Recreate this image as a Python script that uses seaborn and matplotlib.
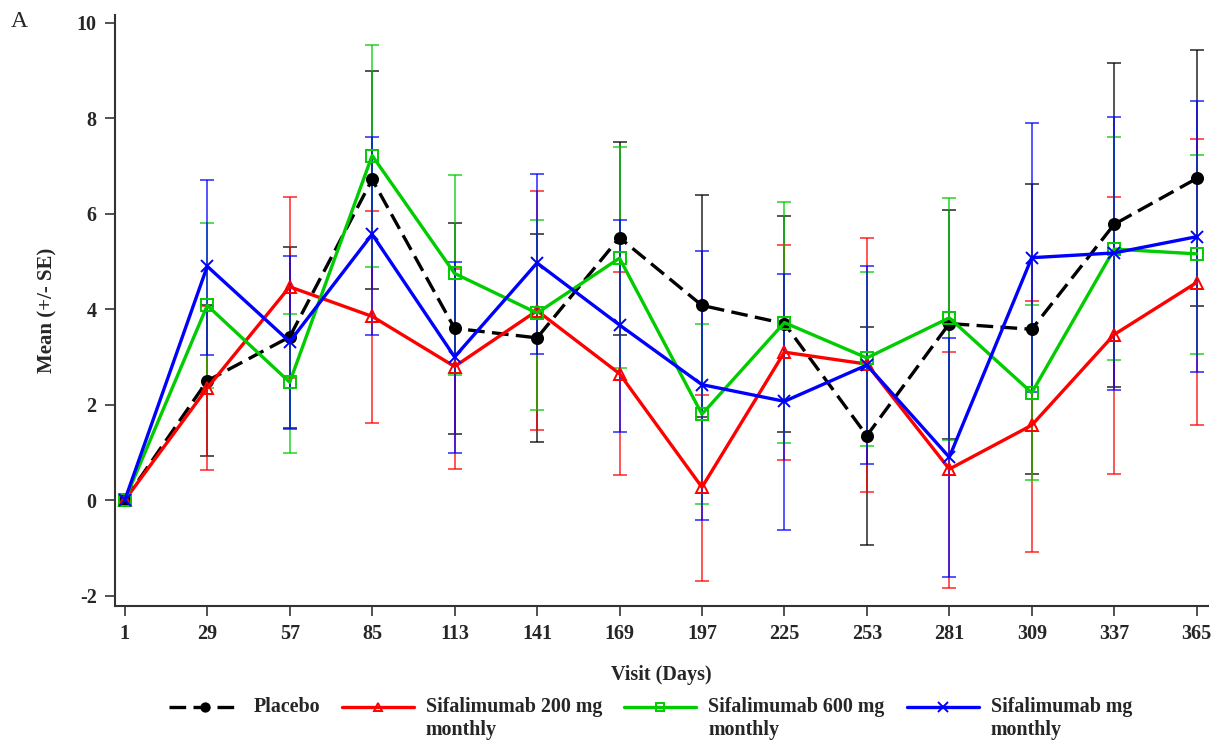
# sifalimumab_mean_plot.py
#
# Mean (+/- SE) by visit day for placebo and the three sifalimumab arms

import numpy as np
import pandas as pd
import seaborn as sns
from matplotlib import pyplot as plt
from matplotlib.transforms import Affine2D

# visit days (x axis)
days = [1, 29, 57, 85, 113, 141, 169, 197, 225, 253, 281, 309, 337, 365]

# group labels, as shown in the legend
groups = ['Placebo',
          'Sifalimumab 200 mg\nmonthly',
          'Sifalimumab 600 mg\nmonthly',
          'Sifalimumab mg\nmonthly']

# means
placebo_mean = [0, 2.50, 3.42, 6.72, 3.60, 3.40, 5.50, 4.08, 3.70, 1.35, 3.70, 3.58, 5.78, 6.74]
low200_mean  = [0, 2.35, 4.47, 3.85, 2.80, 3.97, 2.65, 0.27, 3.10, 2.85, 0.65, 1.57, 3.47, 4.56]
high600_mean = [0, 4.08, 2.47, 7.22, 4.75, 3.92, 5.07, 1.80, 3.72, 2.98, 3.82, 2.25, 5.26, 5.16]
other_mean   = [0, 4.90, 3.32, 5.57, 3.00, 4.97, 3.67, 2.42, 2.07, 2.83, 0.90, 5.08, 5.18, 5.52]

# upper / lower ends of the SE bars
placebo_hi = [0, 4.08, 5.31, 8.99, 5.80, 5.58, 7.50, 6.39, 5.95, 3.62, 6.09, 6.62, 9.16, 9.43]
placebo_lo = [0, 0.92, 1.51, 4.43, 1.38, 1.21, 3.46, 1.75, 1.42, -0.94, 1.28, 0.55, 2.38, 4.07]
low200_hi  = [0, 4.06, 6.35, 6.05, 4.85, 6.48, 4.77, 2.20, 5.35, 5.49, 3.11, 4.17, 6.35, 7.57]
low200_lo  = [0, 0.64, 2.55, 1.62, 0.66, 1.47, 0.52, -1.69, 0.85, 0.17, -1.85, -1.08, 0.55, 1.57]
high600_hi = [0, 5.80, 3.90, 9.53, 6.81, 5.88, 7.39, 3.70, 6.24, 4.77, 6.33, 4.08, 7.60, 7.23]
high600_lo = [0, 2.34, 0.99, 4.88, 2.63, 1.89, 2.76, -0.08, 1.19, 1.14, 1.26, 0.42, 2.93, 3.07]
other_hi   = [0, 6.71, 5.12, 7.61, 4.99, 6.83, 5.88, 5.23, 4.74, 4.91, 3.39, 7.90, 8.03, 8.36]
other_lo   = [0, 3.04, 1.49, 3.47, 0.98, 3.06, 1.43, -0.42, -0.63, 0.75, -1.61, 2.26, 2.31, 2.69]

means = [placebo_mean, low200_mean, high600_mean, other_mean]
highs = [placebo_hi, low200_hi, high600_hi, other_hi]
lows  = [placebo_lo, low200_lo, high600_lo, other_lo]

# styles per group: color, marker, marker face, line style
colors  = ['black', '#FF0000', '#00CC00', '#0000FF']
markers = ['o', '^', 's', 'x']
faces   = ['black', 'none', 'none', '#0000FF']
styles  = [(0, (5, 2.2)), '-', '-', '-']

# long-form table for seaborn
df = pd.concat([pd.DataFrame({'day': days, 'mean': m, 'hi': h, 'lo': l, 'group': g})
                for g, m, h, l in zip(groups, means, highs, lows)], ignore_index=True)

sns.set_theme(style='ticks')
plt.rcParams['font.family'] = ['Liberation Serif', 'DejaVu Serif']
plt.rcParams['axes.unicode_minus'] = False

fig = plt.figure(figsize=(12.21, 7.40), dpi=100)
ax = fig.add_axes([0.094, 0.181, 0.895, 0.799])

# error bars first, lines on top
for g, c in zip(groups, colors):
    sub = df[df.group == g]
    ax.errorbar(sub['day'], sub['mean'],
                yerr=[sub['mean'] - sub['lo'], sub['hi'] - sub['mean']],
                fmt='none', ecolor=c, elinewidth=1.1, capsize=5, capthick=1.1,
                alpha=0.85, zorder=2)

for g, c, mk, fc, ls in zip(groups, colors, markers, faces, styles):
    sub = df[df.group == g]
    sns.lineplot(x='day', y='mean', data=sub, ax=ax, color=c, marker=mk,
                 markerfacecolor=fc, markeredgecolor=c, markeredgewidth=1.4,
                 markersize=9 if mk == 'x' else 8, linewidth=2.4, linestyle=ls,
                 label=g, legend=False, zorder=3)

# axes, ticks, labels
ax.set_xlim(-2.4, 368.7)
ax.set_ylim(-2.22, 10.17)
ax.set_xticks(days)
ax.set_yticks(range(-2, 11, 2))
ax.tick_params(direction='out', length=7, width=1.2, color='#333333',
               labelsize=14.5, pad=6)
for lab in ax.get_xticklabels() + ax.get_yticklabels():
    lab.set_fontweight('bold')
for side in ['top', 'right']:
    ax.spines[side].set_visible(False)
for side in ['left', 'bottom']:
    ax.spines[side].set_linewidth(1.5)
    ax.spines[side].set_color('#333333')

ax.set_xlabel('Visit (Days)', fontsize=14.5, fontweight='bold', labelpad=15)
ax.set_ylabel('Mean (+/- SE)', fontsize=15, fontweight='bold', labelpad=14)

fig.text(0.009, 0.9635, 'A', fontsize=17, va='baseline')

# legend along the bottom; every label gets two lines so the handles
# can sit level with the first line, as in the original
handles, labels = ax.get_legend_handles_labels()
labels = [l if '\n' in l else l + '\n' for l in labels]
leg = fig.legend(handles, labels, loc='upper left', bbox_to_anchor=(0.132, 0.069),
                 ncol=4, frameon=False, handlelength=3.6, markerscale=0.75,
                 handletextpad=0.6, columnspacing=1.1, borderaxespad=0,
                 prop={'weight': 'bold', 'size': 14.4})
for h in leg.legend_handles:
    h.set_transform(h.get_transform() + Affine2D().translate(0, 11.5))

plt.savefig('out.png', dpi=100)
plt.close()
